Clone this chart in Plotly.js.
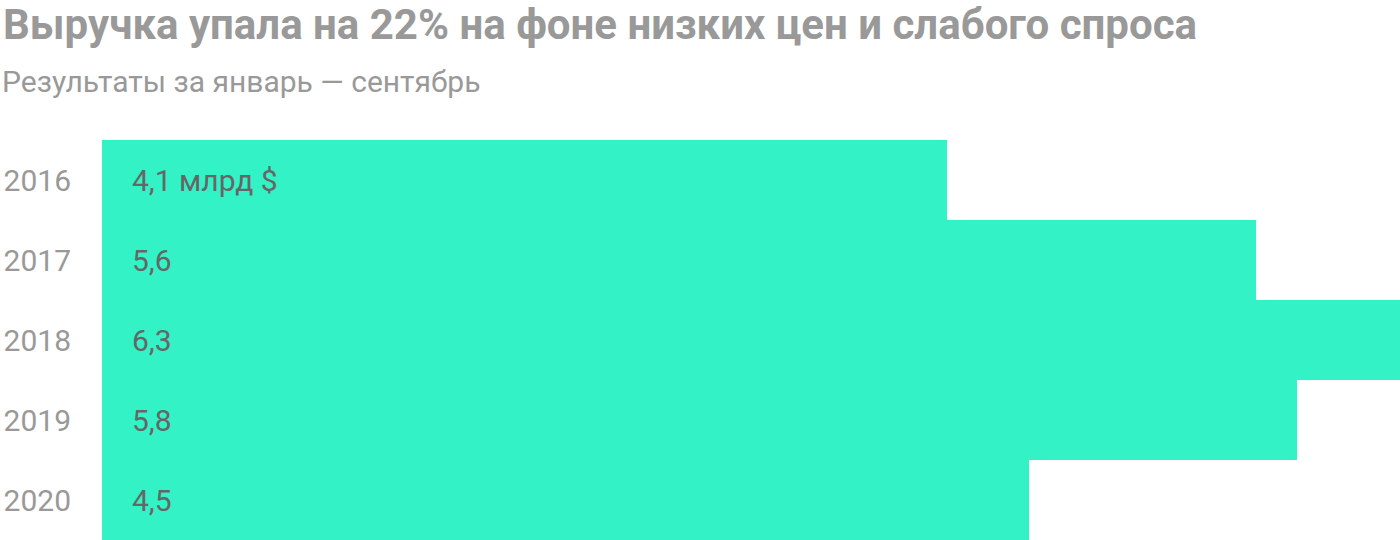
<!DOCTYPE html>
<html><head><meta charset="utf-8">
<script src="https://cdn.plot.ly/plotly-3.0.1.min.js"></script>
<style>html,body{margin:0;padding:0;background:#fff}</style>
</head><body><div id="chart" style="width:1400px;height:540px"></div>
<script>
const years = ['2016', '2017', '2018', '2019', '2020'];
const revenue = [4.1, 5.6, 6.3, 5.8, 4.5];
const valueLabels = ['4,1 млрд $', '5,6', '6,3', '5,8', '4,5'];
const titleText = 'Выручка упала на 22% на фоне низких цен и слабого спроса';
const subtitleText = 'Результаты за январь — сентябрь';

const font = 'Roboto, "Noto Sans", sans-serif';

// category axis: annotation y uses the category's serial number
const annotations = years.map((y, i) => ({
  x: 0, y: i, xref: 'x', yref: 'y', text: valueLabels[i], showarrow: false,
  xanchor: 'left', yanchor: 'middle', xshift: 28,
  font: {family: font, size: 30, color: '#666666'}
}));
annotations.push({
  xref: 'paper', yref: 'paper', x: -102/1298, y: 1 + 39/400, xanchor: 'left', yanchor: 'bottom',
  text: subtitleText, showarrow: false, font: {family: font, size: 30, color: '#999999'}
});
annotations.push({
  xref: 'paper', yref: 'paper', x: -100/1298, y: 1 + 90/400, xanchor: 'left', yanchor: 'bottom',
  borderpad: 0,
  text: '<b>' + titleText + '</b>', showarrow: false, font: {family: font, size: 42, color: '#999999'}
});

Plotly.newPlot('chart', [{
  type: 'bar', orientation: 'h', x: revenue, y: years,
  marker: {color: '#33F3C6', line: {width: 0}},
  hoverinfo: 'none'
}], {
  width: 1400, height: 540,
  margin: {l: 102, r: 0, t: 140, b: 0, pad: 0},
  paper_bgcolor: '#ffffff', plot_bgcolor: '#ffffff',
  bargap: 0,
  xaxis: {range: [0, 6.3], autorange: false, visible: false, fixedrange: true},
  yaxis: {type: 'category', categoryorder: 'array', categoryarray: years,
          range: [years.length - 0.5, -0.5], autorange: false,
          showgrid: false, zeroline: false, showline: false, ticks: '',
          ticklabelstandoff: 30, tickfont: {family: font, size: 30, color: '#999999'}},
  showlegend: false,
  annotations: annotations
}, {displayModeBar: false, staticPlot: true});
</script></body></html>
